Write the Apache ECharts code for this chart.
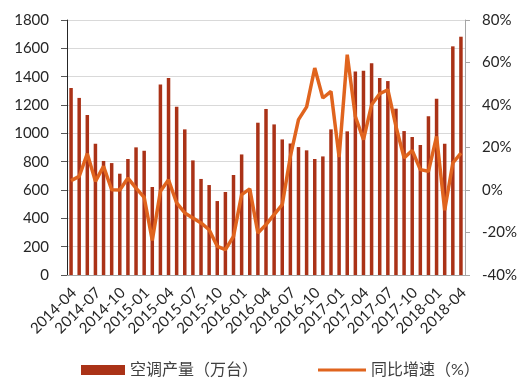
<!DOCTYPE html>
<html>
<head>
<meta charset="utf-8">
<script src="https://cdn.jsdelivr.net/npm/echarts@6/dist/echarts.min.js"></script>
<style>
html,body{margin:0;padding:0;background:#fff;}
#chart{width:520px;height:391px;}
</style>
</head>
<body>
<div id="chart"></div>
<script>
var categories = [
  "2014-04","2014-05","2014-06","2014-07","2014-08","2014-09","2014-10","2014-11","2014-12",
  "2015-01","2015-02","2015-03","2015-04","2015-05","2015-06","2015-07","2015-08","2015-09",
  "2015-10","2015-11","2015-12","2016-01","2016-02","2016-03","2016-04","2016-05","2016-06",
  "2016-07","2016-08","2016-09","2016-10","2016-11","2016-12","2017-01","2017-02","2017-03",
  "2017-04","2017-05","2017-06","2017-07","2017-08","2017-09","2017-10","2017-11","2017-12",
  "2018-01","2018-02","2018-03","2018-04"
];
var production = [
  1320,1250,1130,927,805,790,715,819,901,
  877,621,1345,1390,1188,1028,809,678,635,
  522,586,706,851,600,1075,1172,1063,957,
  929,903,880,819,837,1028,870,1014,1437,
  1442,1494,1390,1369,1174,1016,974,918,1120,
  1244,927,1614,1682
];
var growth = [
  4.4,6.4,17.1,4.1,11.1,0.1,0,5.6,0.9,
  -3.5,-23.7,-0.6,4.8,-6.1,-10.8,-13.2,-15.5,-18.7,
  -26.5,-28.1,-21.8,-2.2,0.5,-20.2,-16.3,-11.6,-6.9,
  15.8,33.1,39.1,57.4,43.3,46.4,15.5,63.7,34.6,
  23.7,40.1,45.3,47.2,29.9,15.1,18.6,9.6,8.8,
  25.2,-9.5,12.7,17.4
];
var seriesNames = ["空调产量（万台）", "同比增速（%）"];

var FONT = 'Lato, "Noto Sans CJK SC", sans-serif';
var BAR_COLOR = '#aa3217';
var LINE_COLOR = '#e0641e';
var chart = echarts.init(document.getElementById('chart'), null, {renderer: 'canvas'});
chart.setOption({
  animation: false,
  textStyle: {fontFamily: FONT},
  grid: {left: 67, right: 53, top: 20, bottom: 116, containLabel: false},
  legend: [
    {
      left: 76, top: 357,
      itemWidth: 44, itemHeight: 10, itemGap: 5,
      textStyle: {fontSize: 16, color: '#404040', fontFamily: FONT},
      data: [{name: seriesNames[0], icon: 'rect'}]
    },
    {
      left: 313, top: 357,
      itemWidth: 48, itemHeight: 3,
      textStyle: {fontSize: 16, color: '#404040', fontFamily: FONT},
      data: [{name: seriesNames[1], icon: 'rect', itemStyle: {color: LINE_COLOR}}]
    }
  ],
  xAxis: {
    type: 'category',
    data: categories,
    boundaryGap: true,
    axisLine: {lineStyle: {color: '#a6a6a6', width: 1}},
    axisTick: {interval: 2, length: 5, lineStyle: {color: '#a6a6a6'}},
    axisLabel: {interval: 2, rotate: 45, fontSize: 15, color: '#262626', margin: 18, padding: [0, -4, 0, 0], fontFamily: FONT}
  },
  yAxis: [
    {
      type: 'value', min: 0, max: 1800, interval: 200,
      axisLine: {show: true, lineStyle: {color: '#262626'}},
      axisTick: {show: true, length: 6, lineStyle: {color: '#595959'}},
      axisLabel: {fontSize: 15, color: '#262626', margin: 18, fontFamily: FONT,
        formatter: function (v) { return String(v); }},
      splitLine: {lineStyle: {color: '#d9d9d9', width: 1}}
    },
    {
      type: 'value', min: -40, max: 80, interval: 20,
      position: 'right',
      axisLine: {show: true, lineStyle: {color: '#a6a6a6'}},
      axisTick: {show: true, length: 5, lineStyle: {color: '#a6a6a6'}},
      axisLabel: {fontSize: 15, color: '#262626', margin: 17, formatter: '{value}%', fontFamily: FONT},
      splitLine: {show: false}
    }
  ],
  series: [
    {
      name: seriesNames[0], type: 'bar', data: production, yAxisIndex: 0,
      barWidth: 3.5,
      itemStyle: {color: BAR_COLOR}
    },
    {
      name: seriesNames[1], type: 'line', data: growth, yAxisIndex: 1,
      symbol: 'none', smooth: false,
      lineStyle: {color: LINE_COLOR, width: 3.5},
      itemStyle: {color: LINE_COLOR}
    }
  ]
});
</script>
</body>
</html>
